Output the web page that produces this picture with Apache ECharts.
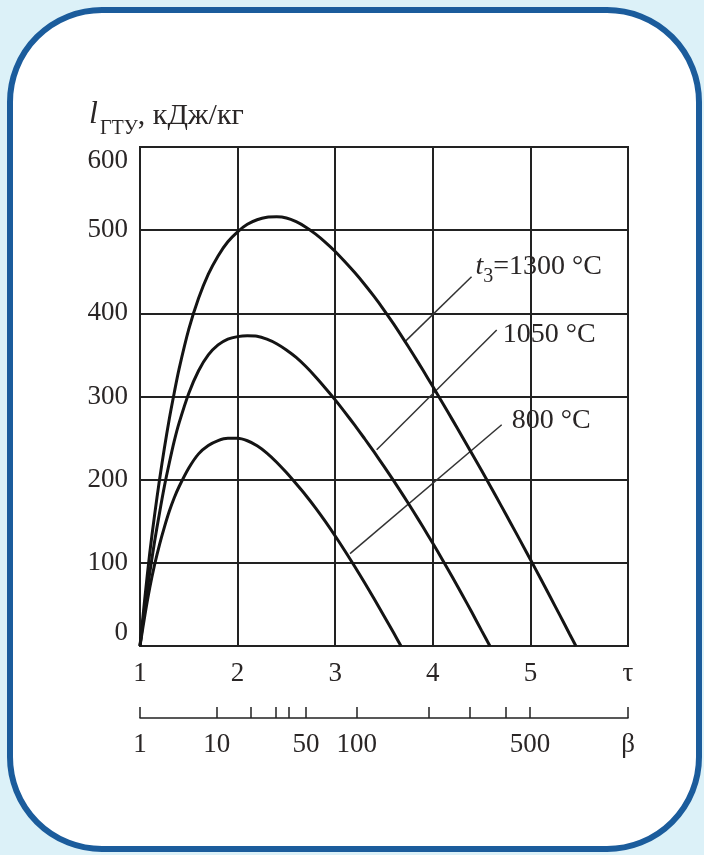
<!DOCTYPE html>
<html>
<head>
<meta charset="UTF-8">
<title>l ГТУ от τ и β</title>
<script src="https://cdn.jsdelivr.net/npm/echarts@6/dist/echarts.min.js"></script>
<style>
    html, body {
        margin: 0;
        padding: 0;
        background: #dcf1f8;
    }
    #chart {
        width: 704px;
        height: 855px;
    }
</style>
</head>
<body>
<div id="chart"></div>
<script>
// кривые удельной работы ГТУ, [τ, l кДж/кг]
var curve1300 = [[1, 0], [1.05, 58], [1.1, 112], [1.15, 158], [1.2, 200], [1.25, 238], [1.3, 273],
    [1.35, 304], [1.4, 333], [1.5, 381], [1.6, 418], [1.7, 447], [1.8, 469], [1.9, 486], [2.0, 498],
    [2.1, 507], [2.2, 512.5], [2.3, 515.5], [2.4, 516], [2.5, 514.7], [2.6, 510.2], [2.7, 503.6],
    [2.8, 495.2], [2.9, 485.4], [3.0, 474.4], [3.1, 462], [3.2, 449], [3.3, 435], [3.4, 420],
    [3.5, 404], [3.6, 387], [3.7, 369], [3.8, 350.5], [3.9, 331.5], [4.0, 312], [4.1, 292.2],
    [4.2, 272.2], [4.3, 252], [4.4, 231.6], [4.5, 211], [4.6, 190], [4.7, 168.8], [4.8, 147.4],
    [4.9, 125.8], [5.0, 104], [5.1, 82], [5.2, 59.8], [5.3, 37.4], [5.4, 14.8], [5.466, 0]];
var curve1050 = [[1, 0], [1.05, 47], [1.1, 88], [1.15, 126], [1.2, 160], [1.25, 192], [1.3, 220],
    [1.35, 246], [1.4, 268], [1.5, 304], [1.6, 331], [1.7, 350], [1.8, 362], [1.9, 369], [2.0, 372],
    [2.1, 373], [2.2, 372.5], [2.3, 369], [2.4, 363.5], [2.5, 356], [2.6, 347], [2.7, 336],
    [2.8, 323.5], [2.9, 310], [3.0, 296], [3.1, 281], [3.2, 265.5], [3.3, 249.5], [3.4, 233],
    [3.5, 216], [3.6, 198.5], [3.7, 180.5], [3.8, 162], [3.9, 143], [4.0, 123.5], [4.1, 103.5],
    [4.2, 83], [4.3, 62], [4.4, 40.5], [4.5, 18.5], [4.585, 0]];
var curve800 = [[1, 0], [1.05, 37], [1.1, 70], [1.15, 98], [1.2, 122], [1.25, 143], [1.3, 162],
    [1.35, 178], [1.4, 191.5], [1.5, 214], [1.6, 231], [1.7, 241], [1.8, 247], [1.9, 249.8],
    [2.0, 249.8], [2.1, 246.8], [2.2, 240.8], [2.3, 232], [2.4, 221], [2.5, 208.5], [2.6, 195],
    [2.7, 181], [2.8, 165.8], [2.9, 149.5], [3.0, 132.3], [3.1, 114.3], [3.2, 95.6], [3.3, 76.3],
    [3.4, 56.5], [3.5, 36.2], [3.6, 15.5], [3.674, 0]];

// выноски к подписям кривых (вторая точка - место подписи)
var leader1300 = [[3.715, 366], [4.397, 444]];
var leader1050 = [[3.425, 236], [4.655, 380]];
var leader800 = [[3.152, 111], [4.706, 266]];

// шкала β под осью τ: значения β и соответствующие им τ
var betaTicks = [1, 10, 20, 30, 40, 50, 100, 200, 300, 400, 500, 1000];
var betaTau = [1, 1.786, 2.134, 2.393, 2.519, 2.701, 3.22, 3.961, 4.381, 4.75, 4.996, 6];
var betaLabels = ['1', '10', '50', '100', '500', 'β'];
var betaLabelTau = [1, 1.786, 2.701, 3.22, 4.996, 6];

var tauLabels = ['1', '2', '3', '4', '5', 'τ'];

var serif = '"Liberation Serif", "DejaVu Serif", serif';
var ink = '#2a2626';

var chart = echarts.init(document.getElementById('chart'));

function curveSeries(data) {
    return {
        type: 'line',
        data: data,
        smooth: 0.3,
        symbol: 'none',
        lineStyle: { color: '#141414', width: 3 },
        z: 5
    };
}

function leaderSeries(data, label, offset) {
    return {
        type: 'line',
        data: data,
        symbol: 'none',
        lineStyle: { color: '#333', width: 1.5 },
        z: 4,
        endLabel: {
            show: true,
            formatter: label,
            distance: 4,
            offset: offset,
            color: ink,
            fontFamily: serif,
            fontSize: 28,
            rich: {
                it: { fontStyle: 'italic', fontFamily: serif, fontSize: 28, color: ink, padding: [0, 0, 6, 0], verticalAlign: 'bottom' },
                sb: { fontFamily: serif, fontSize: 20, color: ink, verticalAlign: 'bottom' },
                n: { fontFamily: serif, fontSize: 28, color: ink, padding: [0, 0, 6, 0], verticalAlign: 'bottom' }
            }
        }
    };
}

var option = {
    backgroundColor: '#dcf1f8',
    animation: false,
    graphic: [{
        type: 'rect',
        z: -10,
        shape: { x: 10, y: 10, width: 689, height: 839, r: 92 },
        style: { fill: '#ffffff', stroke: '#1b5c9c', lineWidth: 6 }
    }],
    title: {
        text: '{l|l}{s|ГТУ}{n|, кДж/кг}',
        left: 84,
        top: 94,
        textStyle: {
            fontWeight: 'normal',
            rich: {
                l: { fontStyle: 'italic', fontWeight: 'normal', fontFamily: serif, fontSize: 32, color: ink, padding: [0, 2, 8, 0], verticalAlign: 'bottom' },
                s: { fontWeight: 'normal', fontFamily: serif, fontSize: 20, color: ink, verticalAlign: 'bottom' },
                n: { fontWeight: 'normal', fontFamily: serif, fontSize: 30, color: ink, padding: [0, 0, 8, 0], verticalAlign: 'bottom' }
            }
        }
    },
    grid: {
        left: 140,
        right: 76,
        top: 147,
        bottom: 209,
        show: true,
        borderColor: '#222',
        borderWidth: 2
    },
    xAxis: [{
        type: 'value',
        min: 1,
        max: 6,
        interval: 1,
        axisLine: { show: true, lineStyle: { color: '#222', width: 2 } },
        axisTick: { show: false },
        splitLine: { show: true, lineStyle: { color: '#222', width: 2 } },
        axisLabel: {
            margin: 14,
            color: ink,
            fontFamily: serif,
            fontSize: 27,
            formatter: function (v) { return tauLabels[Math.round(v) - 1]; }
        }
    }, {
        type: 'value',
        min: 1,
        max: 6,
        position: 'bottom',
        offset: 72,
        axisLine: { show: true, lineStyle: { color: '#222', width: 1.5 } },
        axisTick: {
            show: true,
            inside: true,
            length: 11,
            customValues: betaTau,
            lineStyle: { color: '#222', width: 1.5 }
        },
        splitLine: { show: false },
        axisLabel: {
            margin: 13,
            color: ink,
            fontFamily: serif,
            fontSize: 27,
            customValues: betaLabelTau,
            formatter: function (v) {
                for (var i = 0; i < betaLabelTau.length; i++) {
                    if (Math.abs(betaLabelTau[i] - v) < 1e-6) return betaLabels[i];
                }
                return '';
            }
        }
    }],
    yAxis: {
        type: 'value',
        min: 0,
        max: 600,
        interval: 100,
        axisLine: { show: true, lineStyle: { color: '#222', width: 2 } },
        axisTick: { show: false },
        splitLine: { show: true, lineStyle: { color: '#222', width: 2 } },
        axisLabel: {
            margin: 12,
            color: ink,
            fontFamily: serif,
            fontSize: 27,
            verticalAlignMinLabel: 'bottom',
            verticalAlignMaxLabel: 'top'
        }
    },
    series: [
        curveSeries(curve1300),
        curveSeries(curve1050),
        curveSeries(curve800),
        leaderSeries(leader1300, '{it|t}{sb|3}{n|=1300 °C}', [0, -7]),
        leaderSeries(leader1050, '1050 °C', [2, 5]),
        leaderSeries(leader800, '800 °C', [6, -4])
    ]
};

chart.setOption(option);
</script>
</body>
</html>
